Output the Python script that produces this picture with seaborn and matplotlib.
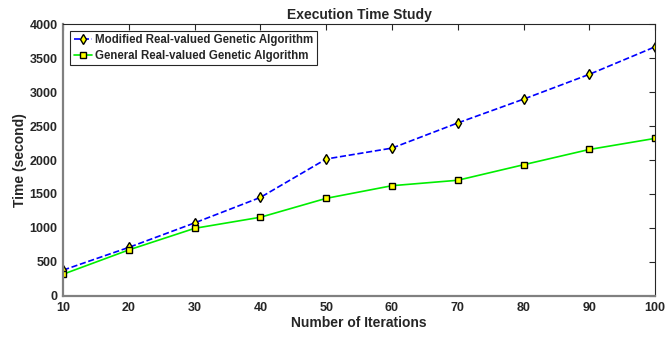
import pandas as pd
import matplotlib
matplotlib.use("Agg")
import matplotlib.pyplot as plt
import seaborn as sns

iterations = [10, 20, 30, 40, 50, 60, 70, 80, 90, 100]
modified_time = [380, 715, 1075, 1450, 2015, 2175, 2545, 2895, 3260, 3665]
general_time = [320, 678, 995, 1158, 1436, 1622, 1702, 1930, 2155, 2318]
labels = ["Modified Real-valued Genetic Algorithm", "General Real-valued Genetic Algorithm"]

sns.set_style("white")
plt.rcParams["font.family"] = ["Liberation Sans", "DejaVu Sans"]
plt.rcParams["font.weight"] = "bold"

df = pd.DataFrame({"iter": iterations, "mod": modified_time, "gen": general_time})

fig = plt.figure(figsize=(6.65, 3.39), dpi=100)
ax = fig.add_axes([0.095, 0.127, 0.89, 0.802])

sns.lineplot(data=df, x="iter", y="mod", ax=ax, color="blue", linestyle="--", lw=1.2,
             marker="d", markersize=5, markerfacecolor="yellow", markeredgecolor="black",
             markeredgewidth=1.0, label=labels[0])
sns.lineplot(data=df, x="iter", y="gen", ax=ax, color="#00ee00", linestyle="-", lw=1.2,
             marker="s", markersize=5, markerfacecolor="yellow", markeredgecolor="black",
             markeredgewidth=1.0, label=labels[1])

ax.set_xlim(10, 100)
ax.set_ylim(0, 4000)
ax.set_xticks(range(10, 101, 10))
ax.set_yticks(range(0, 4001, 500))
ax.tick_params(direction="in", top=True, right=True, length=4, width=0.8,
               color="#262626", labelsize=9, labelcolor="#262626")
ax.tick_params(axis="x", pad=4.5)
ax.tick_params(axis="y", pad=4)
for lab in ax.get_xticklabels() + ax.get_yticklabels():
    lab.set_fontweight("bold")
for sp in ax.spines.values():
    sp.set_color("#262626")
    sp.set_linewidth(0.8)
ax.spines["bottom"].set_color("#808080")
ax.spines["left"].set_color("#808080")
ax.spines["bottom"].set_linewidth(1.6)
ax.spines["left"].set_linewidth(1.6)

ax.set_xlabel("Number of Iterations", fontsize=10, fontweight="bold", color="#262626", labelpad=1)
ax.set_ylabel("Time (second)", fontsize=10, fontweight="bold", color="#262626", labelpad=2)
ax.set_title("Execution Time Study", fontsize=10, fontweight="bold", pad=4)

leg = ax.legend(loc="upper left", fontsize=8.3, frameon=True, fancybox=False,
                edgecolor="#262626", framealpha=1, borderpad=0.3, labelspacing=0.3,
                handlelength=1.6, handletextpad=0.3, borderaxespad=0.6)
leg.get_frame().set_linewidth(0.8)
for t in leg.get_texts():
    t.set_fontweight("bold")

fig.savefig("out.png", dpi=100)
